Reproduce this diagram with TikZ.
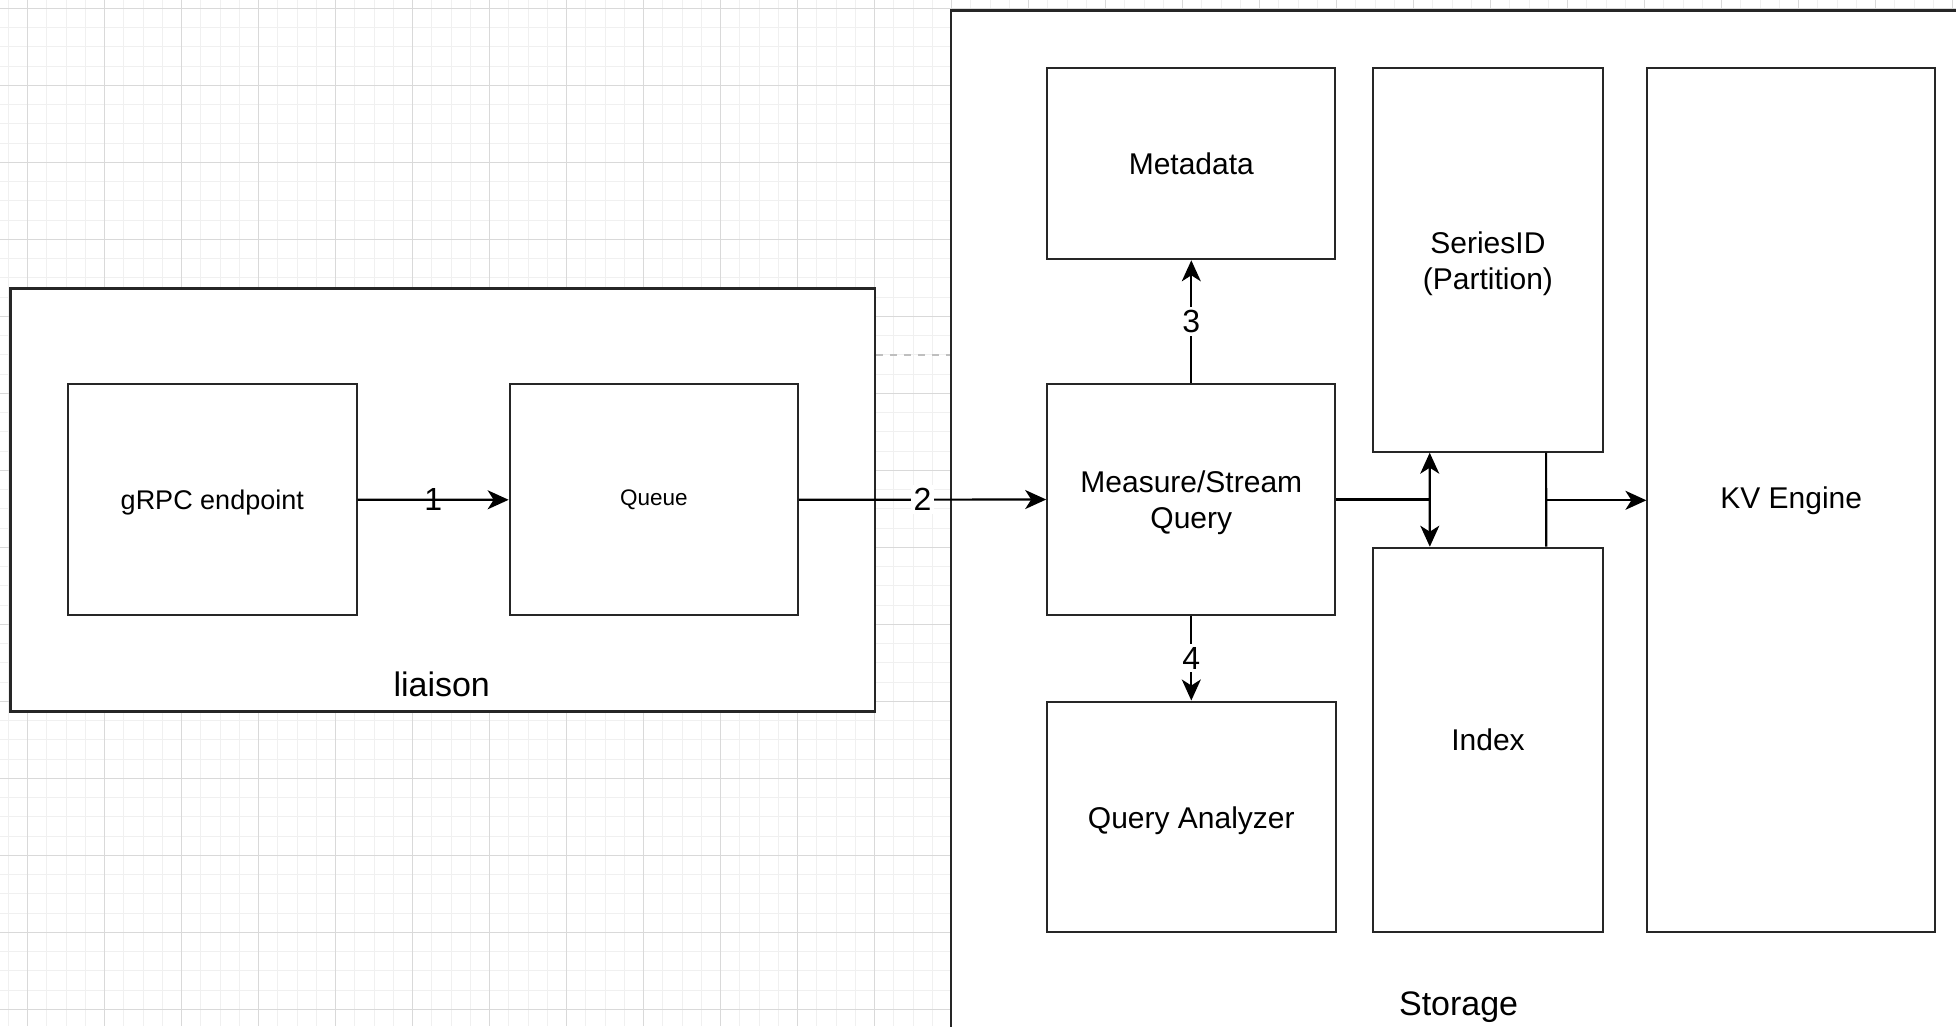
\documentclass[tikz,border=0pt]{standalone}
\usepackage{fontspec}
\setmainfont{Liberation Sans}
\usetikzlibrary{arrows.meta,calc}
\newcommand{\lowr}[2][3pt]{\raisebox{-#1}[\height][\depth]{#2}}
\tikzset{
  box/.style={draw=black!85, line width=2pt, fill=white, rectangle, inner sep=0pt, align=center, font=\fontsize{30}{36}\selectfont},
  container/.style={draw=black!85, line width=2.5pt, fill=white, rectangle, inner sep=0pt},
  tip/.tip={Stealth[length=21pt,width=19pt,inset=6pt]},
  arr/.style={line width=2.2pt, -tip},
  biarr/.style={line width=2.2pt, tip-tip},
  conn/.style={line width=2.2pt},
  numlbl/.style={fill=white, inner sep=3pt, font=\fontsize{32}{38}\selectfont},
  numplain/.style={inner sep=0pt, font=\fontsize{32}{38}\selectfont},
  minorgrid/.style={draw=black!6, line width=1pt},
  majorgrid/.style={draw=black!15, line width=1.2pt},
  grouplbl/.style={anchor=base, inner sep=0pt, font=\fontsize{34}{40}\selectfont},
}
\begin{document}
\begin{tikzpicture}[x=1pt,y=-1pt]
\useasboundingbox (0,0) rectangle (1956,1026);
\clip (0,0) rectangle (1956,1026);
\fill[white] (0,0) rectangle (1956,1026);
% grid
\foreach \i in {-1,...,101} \draw[minorgrid] ({27.6+19.25*\i},0) -- ({27.6+19.25*\i},1026);
\foreach \j in {0,...,53} \draw[minorgrid] (0,{8.3+19.25*\j}) -- (1956,{8.3+19.25*\j});
\foreach \i in {0,...,25} \draw[majorgrid] ({27.6+77*\i},0) -- ({27.6+77*\i},1026);
\foreach \j in {0,...,13} \draw[majorgrid] (0,{8.3+77*\j}) -- (1956,{8.3+77*\j});

% containers
\node[container, minimum width=1018.8pt, minimum height=1029.3pt] (storage) at (1460.6,525.35) {};
\node[container, minimum width=864.7pt, minimum height=423.4pt] (liaison) at (442.7,500) {};
\node[grouplbl] (storagelbl) at (1458.6,1015) {Storage};
\node[grouplbl] (liaisonlbl) at (441.7,696.7) {liaison};

% dashed fragment between containers
\draw[black!25, line width=1.5pt, dash pattern=on 7pt off 7pt] (liaison.east |- 0,355) -- (storage.west |- 0,355);

% liaison boxes
\node[box, minimum width=288.7pt, minimum height=230.7pt, font=\fontsize{27}{32}\selectfont] (grpc) at (212.3,499.7) {\lowr{gRPC endpoint}};
\node[box, minimum width=288.3pt, minimum height=231pt, font=\fontsize{22.5}{27}\selectfont] (queue) at (653.8,499.8) {Queue};

% storage boxes
\node[box, minimum width=288.2pt, minimum height=191pt] (meta) at (1191.3,163.8) {Metadata};
\node[box, minimum width=288.2pt, minimum height=230.4pt] (msq) at (1191.3,499.5) {\lowr{Measure/Stream}\\\lowr{Query}};
\node[box, minimum width=288.4pt, minimum height=230.8pt] (qa) at (1191.3,816.9) {\lowr[4pt]{Query Analyzer}};
\node[box, minimum width=230.8pt, minimum height=383.4pt] (sid) at (1487.9,260) {\lowr[4pt]{SeriesID}\\\lowr[4pt]{(Partition)}};
\node[box, minimum width=230.7pt, minimum height=384.6pt] (idx) at (1488,740) {Index};
\node[box, minimum width=287.6pt, minimum height=864pt] (kv) at (1791.2,500.3) {KV Engine};

% connectors
\draw[arr] (grpc.east) -- node[numplain] (l1) {1} (queue.west);
\draw[arr] (queue.east) -- node[numlbl] (l2) {2} (msq.west);
\draw[arr] (msq.north) -- node[numlbl] (l3) {3} (meta.south);
\draw[arr] (msq.south) -- node[numlbl] (l4) {4} (qa.north);

\coordinate (sidA) at ($(sid.south west)!0.25!(sid.south east)$);
\coordinate (idxA) at ($(idx.north west)!0.25!(idx.north east)$);
\coordinate (sidB) at ($(sid.south west)!0.75!(sid.south east)$);
\coordinate (idxB) at ($(idx.north west)!0.75!(idx.north east)$);
\coordinate (junctA) at (sidA |- msq.east);
\coordinate (junctB) at (sidB |- kv.west);

\draw[conn] (msq.east) -- (junctA);
\draw[biarr] (sidA) -- (idxA);
\draw[conn] (sidB) -- (idxB);
\draw[arr] (junctB) -- (kv.west);
\end{tikzpicture}
\end{document}
